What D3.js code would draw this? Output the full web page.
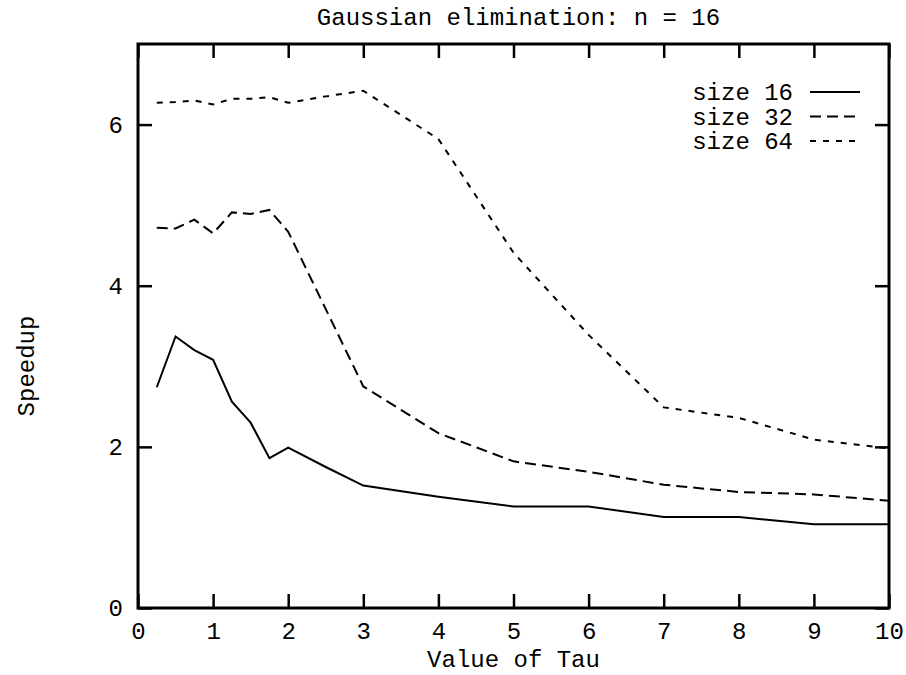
<!DOCTYPE html>
<html>
<head>
<meta charset="utf-8">
<script src="https://cdn.jsdelivr.net/npm/d3@7"></script>
<style>
  body { margin: 0; background: #fff; }
  text { font-family: "Courier New", "Liberation Mono", monospace; font-size: 24px; fill: #000; }
</style>
</head>
<body>
<div id="chart"></div>
<script>
// Data
const tau = [0.25, 0.5, 0.75, 1, 1.25, 1.5, 1.75, 2, 2.5, 3, 4, 5, 6, 7, 8, 9, 10]
const size16 = [2.74, 3.37, 3.2, 3.08, 2.56, 2.3, 1.86, 1.99, 1.75, 1.52, 1.38, 1.26, 1.26, 1.13, 1.13, 1.04, 1.04]
const size32 = [4.72, 4.71, 4.82, 4.65, 4.91, 4.89, 4.94, 4.67, 3.71, 2.75, 2.17, 1.82, 1.69, 1.53, 1.44, 1.41, 1.33]
const size64 = [6.27, 6.28, 6.3, 6.25, 6.32, 6.32, 6.34, 6.27, 6.35, 6.42, 5.82, 4.41, 3.39, 2.49, 2.36, 2.09, 1.98]
const seriesNames = ['size 16', 'size 32', 'size 64']
const xTicks = [0, 1, 2, 3, 4, 5, 6, 7, 8, 9, 10]
const yTicks = [0, 2, 4, 6]

function draw() {
  // Dimensions
  let dimensions = {
    width: 906,
    height: 675,
    margins: { top: 44, right: 17, bottom: 67, left: 138 }
  }

  dimensions.ctrWidth = dimensions.width - dimensions.margins.left - dimensions.margins.right
  dimensions.ctrHeight = dimensions.height - dimensions.margins.top - dimensions.margins.bottom

  const series = [size16, size32, size64].map((values, i) => ({
    name: seriesNames[i],
    dash: ['none', '11,6', '6,7'][i],
    points: values.map((v, j) => ({ x: tau[j], y: v }))
  }))

  // Draw Image
  const svg = d3.select('#chart')
    .append('svg')
    .attr('width', dimensions.width)
    .attr('height', dimensions.height)

  const ctr = svg.append('g')
    .attr('transform', `translate(${dimensions.margins.left}, ${dimensions.margins.top})`)

  // Scales
  const xScale = d3.scaleLinear()
    .domain([0, 10])
    .range([0, dimensions.ctrWidth])

  const yScale = d3.scaleLinear()
    .domain([0, 7])
    .range([dimensions.ctrHeight, 0])

  // Axis (ticks point inward on all four sides)
  const tick = 14

  const xAxis = d3.axisBottom(xScale).tickValues(xTicks).tickSize(-tick).tickPadding(14).tickFormat(d3.format('d'))
  const xAxisTop = d3.axisTop(xScale).tickValues(xTicks).tickSize(-tick).tickFormat('')
  const yAxis = d3.axisLeft(yScale).tickValues(yTicks).tickSize(-tick).tickPadding(15).tickFormat(d3.format('d'))
  const yAxisRight = d3.axisRight(yScale).tickValues(yTicks).tickSize(-tick).tickFormat('')

  const axes = [
    ctr.append('g').attr('transform', `translate(0, ${dimensions.ctrHeight})`).call(xAxis),
    ctr.append('g').call(xAxisTop),
    ctr.append('g').call(yAxis),
    ctr.append('g').attr('transform', `translate(${dimensions.ctrWidth}, 0)`).call(yAxisRight)
  ]

  axes.forEach(g => {
    g.select('.domain').remove()
    g.selectAll('line').attr('stroke', '#000').attr('stroke-width', 2.5)
    g.selectAll('text')
      .attr('fill', '#000')
      .style('font-family', '"Courier New", "Liberation Mono", monospace')
      .style('font-size', '24px')
  })

  // Frame
  ctr.append('rect')
    .attr('width', dimensions.ctrWidth)
    .attr('height', dimensions.ctrHeight)
    .attr('fill', 'none')
    .attr('stroke', '#000')
    .attr('stroke-width', 3)

  // Lines
  const line = d3.line()
    .x(d => xScale(d.x))
    .y(d => yScale(d.y))

  ctr.selectAll('path.series')
    .data(series)
    .join('path')
    .classed('series', true)
    .attr('d', d => line(d.points))
    .attr('fill', 'none')
    .attr('stroke', '#000')
    .attr('stroke-width', 2)
    .attr('stroke-dasharray', d => d.dash)

  // Legend
  const legend = ctr.append('g')
    .attr('transform', `translate(${dimensions.ctrWidth - 250}, 48)`)

  const rows = legend.selectAll('g')
    .data(series)
    .join('g')
    .attr('transform', (d, i) => `translate(0, ${i * 24.5})`)

  rows.append('text')
    .attr('x', 154)
    .attr('dy', '0.35em')
    .attr('text-anchor', 'end')
    .text(d => d.name)

  rows.append('line')
    .attr('x1', 171)
    .attr('x2', 221)
    .attr('stroke', '#000')
    .attr('stroke-width', 2)
    .attr('stroke-dasharray', d => d.dash)

  // Titles
  svg.append('text')
    .attr('x', dimensions.margins.left + dimensions.ctrWidth / 2 + 5)
    .attr('y', 25)
    .attr('text-anchor', 'middle')
    .text('Gaussian elimination: n = 16')

  svg.append('text')
    .attr('x', dimensions.margins.left + dimensions.ctrWidth / 2)
    .attr('y', 667)
    .attr('text-anchor', 'middle')
    .text('Value of Tau')

  svg.append('text')
    .attr('transform', `translate(34, ${dimensions.margins.top + dimensions.ctrHeight / 2 + 40}) rotate(-90)`)
    .attr('text-anchor', 'middle')
    .text('Speedup')
}

draw()
</script>
</body>
</html>
